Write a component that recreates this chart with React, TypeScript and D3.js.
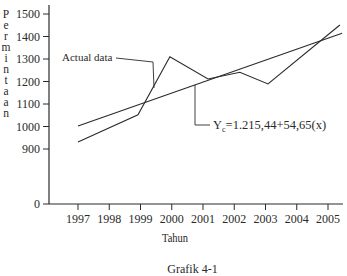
import React from "react";
import * as d3 from "d3";

const W = 347;
const H = 276;

const yTicks = [0, 900, 1000, 1100, 1200, 1300, 1400, 1500];
const xTicks = [1997, 1998, 1999, 2000, 2001, 2002, 2003, 2004, 2005];

const actualX = [1997, 1998.92, 1999.94, 2001.16, 2002.18, 2003.08, 2005.38];
const actualY = [931, 1052, 1310, 1211, 1241, 1189, 1451];

// Trend line end points
const trendX = [1997, 2005.45];
const trendY = [1002, 1414];

const yLabel = "Permintaan";

const FONT = "'Liberation Serif', 'Times New Roman', serif";
const INK = "#2a2a2a";

export default function App() {
  const x = d3.scaleLinear().domain([1997, 2005]).range([78, 328]);
  const y = d3.scaleLinear().domain([0, 900, 1500]).range([204, 149, 14]);

  const line = d3
    .line<[number, number]>()
    .x((d) => x(d[0]))
    .y((d) => y(d[1]));

  const actualPts = actualX.map((v, i) => [v, actualY[i]] as [number, number]);
  const trendPts = trendX.map((v, i) => [v, trendY[i]] as [number, number]);

  const axisX = 49;
  const axisY = 204;

  const trendAt = (yr: number) =>
    trendY[0] + ((trendY[1] - trendY[0]) * (yr - trendX[0])) / (trendX[1] - trendX[0]);
  const trendLeaderX = 195;
  const trendLeaderTopY = y(trendAt(x.invert(trendLeaderX)));

  return (
    <svg
      width={W}
      height={H}
      style={{ position: "absolute", left: 0, top: 0, background: "#fff" }}
      fontFamily={FONT}
    >
      <rect x={0} y={0} width={W} height={H} fill="#fff" />
      {/* Y axis label, stacked upright letters */}
      <text
        x={6}
        y={8}
        fontSize={11.5}
        fill={INK}
        style={{ writingMode: "vertical-rl", textOrientation: "upright" } as any}
        letterSpacing={-1}
      >
        {yLabel}
      </text>
      {/* Y axis */}
      <line x1={axisX} x2={axisX} y1={5} y2={axisY} stroke={INK} strokeWidth={1.2} />
      {yTicks.map((t) => (
        <g key={t}>
          <line x1={axisX - 6} x2={axisX} y1={y(t)} y2={y(t)} stroke={INK} strokeWidth={1} />
          <text x={40} y={y(t) + 4} fontSize={12} textAnchor="end" fill={INK}>
            {t}
          </text>
        </g>
      ))}
      {/* X axis */}
      <line x1={axisX} x2={343} y1={axisY} y2={axisY} stroke={INK} strokeWidth={1.2} />
      {xTicks.map((t) => (
        <g key={t}>
          <line x1={x(t)} x2={x(t)} y1={axisY} y2={axisY + 6} stroke={INK} strokeWidth={1} />
          <text x={x(t)} y={223} fontSize={12} textAnchor="middle" fill={INK}>
            {t}
          </text>
        </g>
      ))}
      <text x={162} y={242} fontSize={11.5} fill={INK} textLength={26} lengthAdjust="spacingAndGlyphs">
        Tahun
      </text>
      <text x={192.5} y={273} fontSize={12} textAnchor="middle" fill={INK}>
        Grafik 4-1
      </text>

      {/* Lines */}
      <path d={line(trendPts) || ""} fill="none" stroke={INK} strokeWidth={1.1} />
      <path d={line(actualPts) || ""} fill="none" stroke={INK} strokeWidth={1.1} />

      {/* Actual data annotation */}
      <text x={62} y={61} fontSize={11} fill={INK}>
        Actual data
      </text>
      <path d="M116,58 L153,62 L154,88" fill="none" stroke={INK} strokeWidth={0.9} />

      {/* Trend annotation */}
      <path
        d={`M${trendLeaderX},${trendLeaderTopY} L${trendLeaderX},125 L210,125`}
        fill="none"
        stroke={INK}
        strokeWidth={0.9}
      />
      <text x={213} y={129} fontSize={12.5} fill={INK}>
        Y
        <tspan fontSize={8} dy={3}>c</tspan>
        <tspan dy={-3}>=1.215,44+54,65(x)</tspan>
      </text>
    </svg>
  );
}
